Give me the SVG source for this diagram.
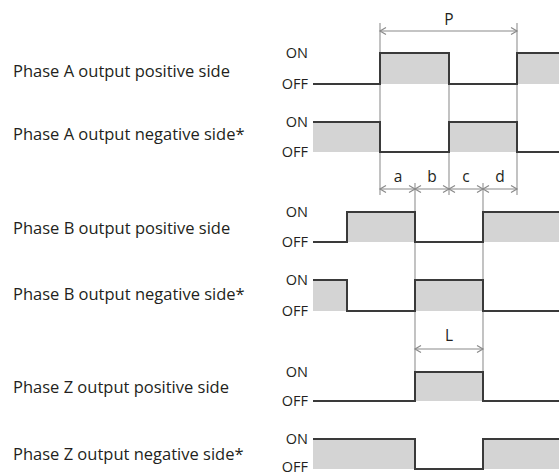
<svg xmlns="http://www.w3.org/2000/svg" width="559" height="475" viewBox="0 0 559 475">
<defs>
<style>
.lbl{font-family:"Open Sans","Liberation Sans",sans-serif;font-size:16.5px;fill:#231f20}
.lv{font-family:"Open Sans","Liberation Sans",sans-serif;font-size:14.5px;fill:#231f20;text-anchor:end}
.dim{font-family:"Open Sans","Liberation Sans",sans-serif;font-size:15.5px;fill:#231f20;text-anchor:middle}
.fill{fill:#d4d4d4;stroke:none}
.sig{fill:none;stroke:#3a3a3a;stroke-width:2;stroke-linejoin:miter}
.guide{stroke:#9a9a9a;stroke-width:1.2;fill:none}
.arr{stroke:#8a8a8a;stroke-width:1.2;fill:none;marker-start:url(#ch);marker-end:url(#ch)}
</style>
<marker id="ch" markerUnits="userSpaceOnUse" markerWidth="12" markerHeight="12" viewBox="-8 -6 10 12" refX="0" refY="0" orient="auto-start-reverse">
<path d="M-6,-3.5 L0,0 L-6,3.5" fill="none" stroke="#8a8a8a" stroke-width="1.2"/>
</marker>
</defs>

<g id="connectors">
<line class="guide" x1="380" y1="23" x2="380" y2="195"/>
<line class="guide" x1="517" y1="23" x2="517" y2="195"/>
<line class="guide" x1="449" y1="53" x2="449" y2="195"/>
<line class="guide" x1="415" y1="183" x2="415" y2="372"/>
<line class="guide" x1="483" y1="183" x2="483" y2="372"/>
<line class="arr" x1="380" y1="31" x2="517" y2="31"/>
<line class="arr" x1="380" y1="189" x2="415" y2="189"/>
<line class="arr" x1="415" y1="189" x2="449" y2="189"/>
<line class="arr" x1="449" y1="189" x2="483" y2="189"/>
<line class="arr" x1="483" y1="189" x2="517" y2="189"/>
<line class="arr" x1="415" y1="349" x2="483" y2="349"/>
</g>

<g id="dim-labels">
<text class="dim" x="449" y="25">P</text>
<text class="dim" x="398" y="182">a</text>
<text class="dim" x="432" y="182">b</text>
<text class="dim" x="466" y="182">c</text>
<text class="dim" x="500" y="182">d</text>
<text class="dim" x="449" y="341">L</text>
</g>

<g id="phaseA-pos">
<text class="lbl" x="13" y="77">Phase A output positive side</text>
<text class="lv" x="308" y="58">ON</text>
<text class="lv" x="308" y="89">OFF</text>
<rect class="fill" x="380" y="53" width="69" height="31"/>
<rect class="fill" x="517" y="53" width="42" height="31"/>
<path class="sig" d="M313,84 H380 V53 H449 V84 H517 V53 H559"/>
</g>

<g id="phaseA-neg">
<text class="lbl" x="13" y="140">Phase A output negative side*</text>
<text class="lv" x="308" y="127">ON</text>
<text class="lv" x="308" y="157">OFF</text>
<rect class="fill" x="313" y="122" width="67" height="30"/>
<rect class="fill" x="449" y="122" width="68" height="30"/>
<path class="sig" d="M313,122 H380 V152 H449 V122 H517 V152 H559"/>
</g>

<g id="phaseB-pos">
<text class="lbl" x="13" y="234">Phase B output positive side</text>
<text class="lv" x="308" y="217">ON</text>
<text class="lv" x="308" y="247">OFF</text>
<rect class="fill" x="347" y="212" width="68" height="30"/>
<rect class="fill" x="483" y="212" width="76" height="30"/>
<path class="sig" d="M313,242 H347 V212 H415 V242 H483 V212 H559"/>
</g>

<g id="phaseB-neg">
<text class="lbl" x="13" y="300">Phase B output negative side*</text>
<text class="lv" x="308" y="285">ON</text>
<text class="lv" x="308" y="316">OFF</text>
<rect class="fill" x="313" y="280" width="34" height="31"/>
<rect class="fill" x="415" y="280" width="68" height="31"/>
<path class="sig" d="M313,280 H347 V311 H415 V280 H483 V311 H559"/>
</g>

<g id="phaseZ-pos">
<text class="lbl" x="13" y="393">Phase Z output positive side</text>
<text class="lv" x="308" y="377">ON</text>
<text class="lv" x="308" y="406">OFF</text>
<rect class="fill" x="415" y="372" width="68" height="29"/>
<path class="sig" d="M313,401 H415 V372 H483 V401 H559"/>
</g>

<g id="phaseZ-neg">
<text class="lbl" x="13" y="460">Phase Z output negative side*</text>
<text class="lv" x="308" y="444">ON</text>
<text class="lv" x="308" y="472">OFF</text>
<rect class="fill" x="313" y="439" width="102" height="30"/>
<rect class="fill" x="483" y="439" width="76" height="30"/>
<path class="sig" d="M313,439 H415 V469 H483 V439 H559"/>
</g>
</svg>
